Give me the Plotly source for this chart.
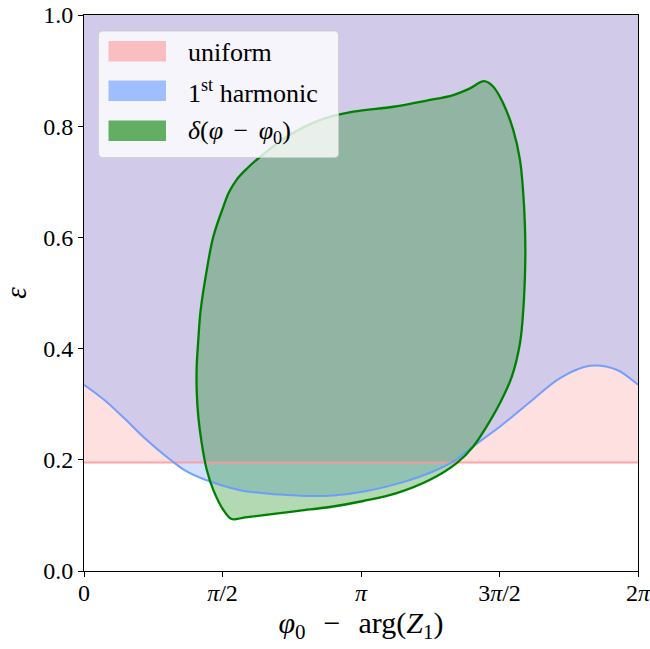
import numpy as np
import plotly.graph_objects as go

PI = np.pi

# ---------------- data ----------------
uniform_level = 0.195

harm_x = [0.0, 0.227, 0.454, 0.680, 0.907, 1.021, 1.134, 1.361, 1.588, 1.815, 2.041,
          2.268, 2.495, 2.83, 3.21, 3.58, 3.96, 4.19, 4.41, 4.72, 5.09, 5.40, 5.74,
          6.04, 6.26, 6.2832]
harm_y = [0.335, 0.308, 0.275, 0.240, 0.209, 0.195, 0.182, 0.165, 0.153, 0.144, 0.140,
          0.137, 0.135, 0.136, 0.144, 0.158, 0.179, 0.197, 0.224, 0.260, 0.308, 0.347, 0.369,
          0.362, 0.338, 0.335]

delta_x = [1.675, 1.580, 1.466, 1.392, 1.335, 1.296, 1.278, 1.278, 1.296, 1.323, 1.392,
           1.466, 1.580, 1.644, 1.732, 1.849, 1.996, 2.299, 2.676, 3.054, 3.508, 3.887, 4.188,
           4.378, 4.536, 4.642, 4.755, 4.869, 4.945, 4.982, 5.001, 5.005, 4.982, 4.945, 4.851,
           4.718, 4.567, 4.415, 4.227, 3.924, 3.546, 3.168, 2.790, 2.450, 2.223, 1.826, 1.675]
delta_y = [0.0935, 0.110, 0.146, 0.182, 0.230, 0.278, 0.326, 0.367, 0.415, 0.469, 0.541,
           0.601, 0.655, 0.681, 0.704, 0.7239, 0.7446, 0.781, 0.811, 0.826, 0.835, 0.846, 0.856,
           0.868, 0.881, 0.871, 0.841, 0.793, 0.739, 0.679, 0.619, 0.559, 0.469, 0.410, 0.349,
           0.302, 0.260, 0.224, 0.194, 0.164, 0.140, 0.1259, 0.1151, 0.1086, 0.1040, 0.0964, 0.0935]

x_tickvals = [0, PI / 2, PI, 3 * PI / 2, 2 * PI]
x_ticktext = ["0", "<i>π</i>/2", "<i>π</i>", "3<i>π</i>/2", "2<i>π</i>"]
y_tickvals = [0.0, 0.2, 0.4, 0.6, 0.8, 1.0]
y_ticktext = ["0.0", "0.2", "0.4", "0.6", "0.8", "1.0"]

legend_labels = ["uniform", "1<sup>st</sup> harmonic",
                 "<i>δ</i>(<i>φ</i>\u2009\u2009−\u2009\u2009<i>φ</i><sub>0</sub>)"]
x_title = "<i>φ</i><sub>0</sub>\u2009\u2009\u2009−\u2009\u2009\u2009arg(<i>Z</i><sub>1</sub>)"
y_title = "<i>ε</i>"

# ---------------- styles ----------------
PINK = (255, 153, 153)
BLUE = (102, 153, 255)
GREEN = (0, 128, 0)
def rgba(c, a):
    return f"rgba({c[0]},{c[1]},{c[2]},{a})"

FONT = "Liberation Serif"
W, H = 650, 649
L, R, T, B = 84, 12, 15, 78
PW, PH = W - L - R, H - T - B
SM = 1.0

fig = go.Figure()

# uniform region
fig.add_trace(go.Scatter(x=[0, 2 * PI, 2 * PI, 0, 0],
                         y=[uniform_level, uniform_level, 1, 1, uniform_level],
                         mode="lines", line=dict(width=0), fill="toself",
                         fillcolor=rgba(PINK, 0.3), hoverinfo="skip", showlegend=False))
# 1st harmonic region (above curve)
fig.add_trace(go.Scatter(x=[0, 2 * PI], y=[1, 1], mode="lines", line=dict(width=0),
                         hoverinfo="skip", showlegend=False))
fig.add_trace(go.Scatter(x=harm_x, y=harm_y, mode="lines",
                         line=dict(width=0, shape="spline", smoothing=1.0),
                         fill="tonexty", fillcolor=rgba(BLUE, 0.3),
                         hoverinfo="skip", showlegend=False))
# delta region
fig.add_trace(go.Scatter(x=delta_x, y=delta_y, mode="lines",
                         line=dict(width=0, shape="spline", smoothing=SM),
                         fill="toself", fillcolor=rgba(GREEN, 0.3),
                         hoverinfo="skip", showlegend=False))
# lines
fig.add_trace(go.Scatter(x=[0, 2 * PI], y=[uniform_level, uniform_level], mode="lines",
                         line=dict(width=2, color=rgba(PINK, 0.85)), showlegend=False))
fig.add_trace(go.Scatter(x=harm_x, y=harm_y, mode="lines",
                         line=dict(width=2, color=rgba(BLUE, 0.9), shape="spline", smoothing=1.0),
                         showlegend=False))
fig.add_trace(go.Scatter(x=delta_x, y=delta_y, mode="lines",
                         line=dict(width=2.3, color=rgba(GREEN, 1), shape="spline", smoothing=SM),
                         showlegend=False))

# ---------------- manual legend (paper coords) ----------------
def px(xp):
    return (xp - L) / PW
def py(yp):
    return (H - B - yp) / PH

x0, x1, y0, y1 = 98.5, 338.5, 31, 157.5
r = 4
rx, ry = r / PW, r / PH
X0, X1, Y0, Y1 = px(x0), px(x1), py(y1), py(y0)
path = (f"M{X0 + rx},{Y0} L{X1 - rx},{Y0} Q{X1},{Y0} {X1},{Y0 + ry} "
        f"L{X1},{Y1 - ry} Q{X1},{Y1} {X1 - rx},{Y1} L{X0 + rx},{Y1} "
        f"Q{X0},{Y1} {X0},{Y1 - ry} L{X0},{Y0 + ry} Q{X0},{Y0} {X0 + rx},{Y0} Z")
shapes = [dict(type="path", path=path, xref="paper", yref="paper",
               fillcolor="rgba(255,255,255,0.8)", line=dict(color="rgba(204,204,204,0.8)", width=1),
               layer="above")]
annotations = []
row_tops = [41, 80.5, 120.5]
for i, (lab, col) in enumerate(zip(legend_labels, [PINK, BLUE, GREEN])):
    t = row_tops[i]
    shapes.append(dict(type="rect", xref="paper", yref="paper",
                       x0=px(108.5), x1=px(166), y0=py(t + 20.5), y1=py(t),
                       fillcolor=rgba(col, 0.6), line=dict(width=0), layer="above"))
    annotations.append(dict(text=lab, xref="paper", yref="paper", x=px(186), y=py(t + 11),
                            xanchor="left", yanchor="middle", showarrow=False,
                            font=dict(family=FONT, size=26, color="black")))

fig.update_layout(
    width=W, height=H,
    margin=dict(l=L, r=R, t=T, b=B, autoexpand=False),
    paper_bgcolor="white", plot_bgcolor="white",
    shapes=shapes, annotations=annotations,
    font=dict(family=FONT, size=24, color="black"),
    showlegend=False,
    xaxis=dict(range=[0, 2 * PI], tickvals=x_tickvals, ticktext=x_ticktext,
               showgrid=False, zeroline=False, showline=True, linecolor="black", linewidth=1,
               mirror=True, ticks="outside", ticklen=5, tickcolor="black",
               tickfont=dict(family=FONT, size=24), automargin=False,
               ticklabeloverflow="allow", ticklabelstandoff=-5,
               title=dict(text=x_title, font=dict(family=FONT, size=30), standoff=4)),
    yaxis=dict(range=[0, 1], tickvals=y_tickvals, ticktext=y_ticktext,
               showgrid=False, zeroline=False, showline=True, linecolor="black", linewidth=1,
               mirror=True, ticks="outside", ticklen=5, tickcolor="black",
               tickfont=dict(family=FONT, size=24), automargin=False,
               ticklabeloverflow="allow",
               title=dict(text=y_title, font=dict(family=FONT, size=29), standoff=8)),
)

fig.write_html("out.html", config={"displayModeBar": False},
               post_script="document.body.style.margin='0';document.body.style.overflow='hidden';")
